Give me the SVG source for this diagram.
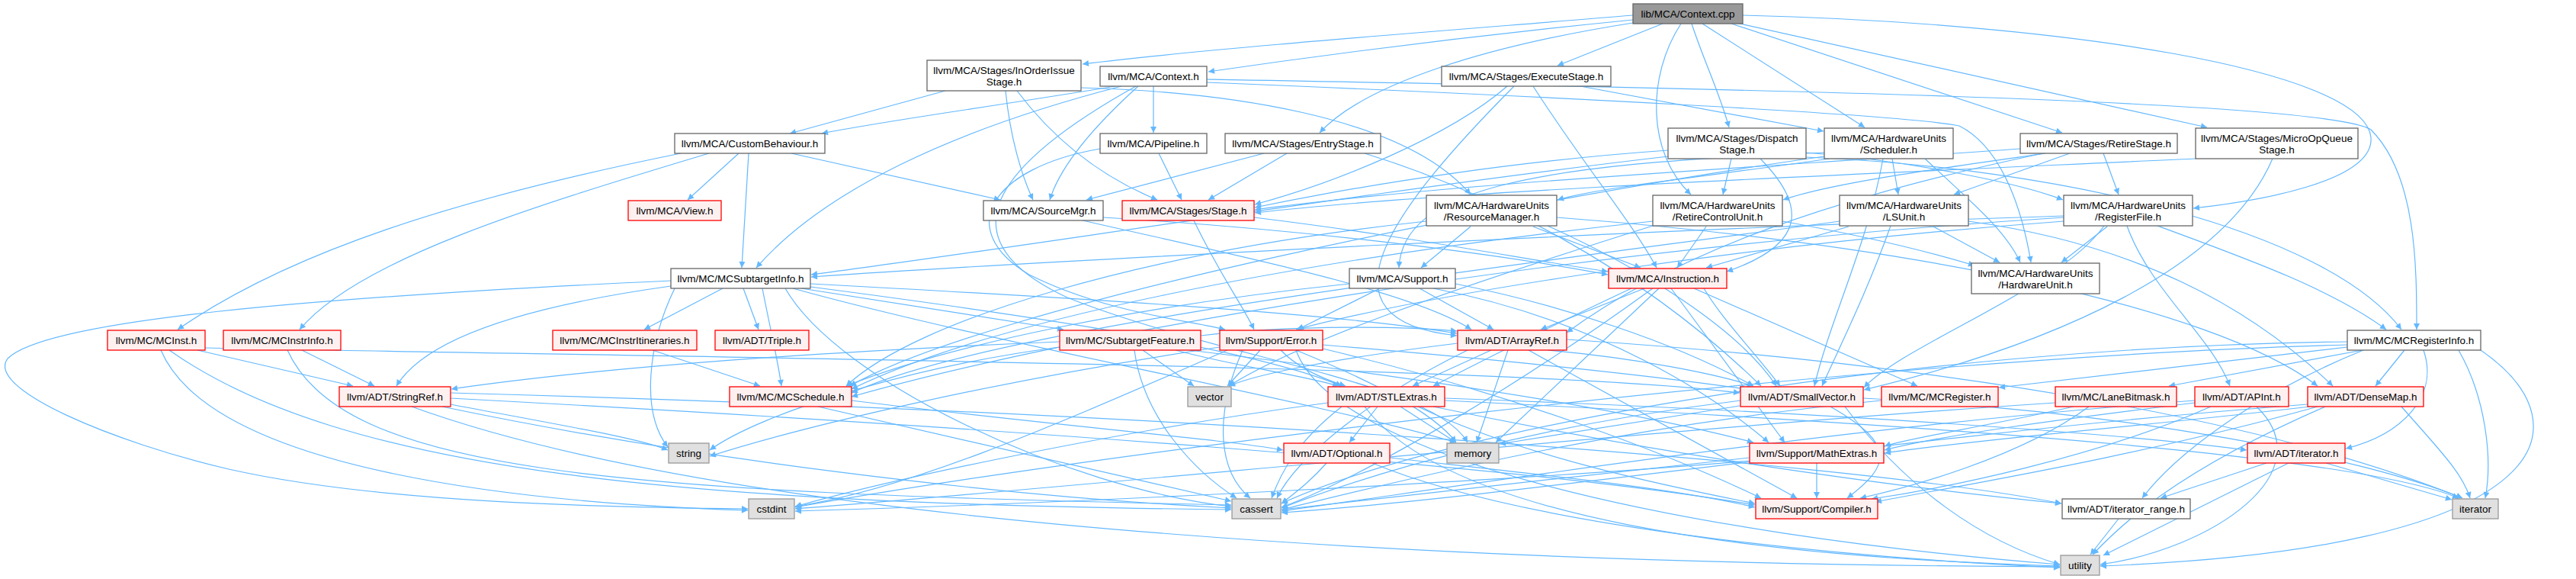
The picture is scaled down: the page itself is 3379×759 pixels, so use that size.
<svg xmlns="http://www.w3.org/2000/svg" width="3379" height="759" viewBox="0 0 3379 759">
<style>
rect{stroke-width:1.3}
.n{fill:#ffffff;stroke:#666666}
.m{fill:#999999;stroke:#666666}
.r{fill:#fff0f0;stroke:#ff0000}
.s{fill:#e0e0e0;stroke:#999999}
text{font-family:"Liberation Sans",Arial,sans-serif;font-size:13.5px;fill:#000;text-anchor:middle}
.e path{fill:none;stroke:#63b8ff;stroke-width:1.2;marker-end:url(#a)}
</style>
<defs>
<marker id="a" viewBox="0 0 10 10" refX="10" refY="5" markerWidth="11" markerHeight="8" markerUnits="userSpaceOnUse" orient="auto">
<path d="M0,0 L10,5 L0,10 z" fill="#63b8ff"/>
</marker>
</defs>
<rect width="3379" height="759" fill="#ffffff"/>
<g id="edges" class="e">
<path d="M2142,20 C1900,40 1600,62 1420,84"/>
<path d="M2142,26 C1950,45 1750,70 1585,94"/>
<path d="M2181,31 L2043,86"/>
<path d="M2142,30 C1950,60 1790,110 1731,174"/>
<path d="M2205,31 C2160,100 2160,200 2218,255"/>
<path d="M2219,31 C2235,80 2255,120 2268,167"/>
<path d="M2233,31 L2446,167"/>
<path d="M2271,31 L2705,174"/>
<path d="M2278,30 L2895,167"/>
<path d="M2286,20 C2700,30 3100,90 3110,180 C3115,240 2950,265 2877,273"/>
<path d="M1463,113 C1300,140 1150,160 1078,175"/>
<path d="M1471,113 C1250,170 1080,250 992,351"/>
<path d="M1493,113 C1430,170 1390,220 1377,262"/>
<path d="M1513,113 L1513,174"/>
<path d="M1583,104 C2200,115 3050,130 3110,170 C3170,230 3170,350 3170,432"/>
<path d="M1583,108 C2000,125 2500,150 2570,165 C2620,190 2650,260 2664,344"/>
<path d="M1490,113 C1280,230 1250,320 1400,390 C1600,470 1880,500 1925,580"/>
<path d="M1240,119 L1036,175"/>
<path d="M1319,119 C1325,180 1340,230 1355,262"/>
<path d="M1334,119 C1380,180 1440,230 1518,262"/>
<path d="M1418,115 C1600,120 1840,150 1929,255"/>
<path d="M1977,113 C1900,180 1750,240 1646,268"/>
<path d="M1986,113 C1820,280 1720,420 1911,440"/>
<path d="M2011,113 C2080,220 2140,290 2173,351"/>
<path d="M2073,113 L2392,172"/>
<path d="M893,201 C600,260 380,330 233,432"/>
<path d="M930,201 C700,270 470,340 393,432"/>
<path d="M969,201 L902,262"/>
<path d="M982,201 L973,351"/>
<path d="M1038,201 L1312,262"/>
<path d="M1520,201 L1550,262"/>
<path d="M1443,195 C1300,220 1250,300 1350,360 C1450,410 1560,420 1607,432"/>
<path d="M1658,201 L1425,262"/>
<path d="M1688,201 L1585,262"/>
<path d="M1790,201 C1950,250 2150,350 2310,506"/>
<path d="M2188,197 C2000,210 1800,240 1646,272"/>
<path d="M2369,200 C2500,210 2650,240 2706,262"/>
<path d="M2271,208 L2260,255"/>
<path d="M2309,208 C2370,270 2370,320 2265,356"/>
<path d="M2369,206 C2700,220 3050,300 3150,432"/>
<path d="M2188,205 C1800,250 1300,330 1064,360"/>
<path d="M2482,208 L2490,255"/>
<path d="M2400,208 C2250,230 2100,245 2043,262"/>
<path d="M2525,208 C2580,260 2630,300 2650,344"/>
<path d="M2393,205 C2000,260 1300,400 1115,506"/>
<path d="M2393,200 C2000,215 1840,250 1835,351"/>
<path d="M2470,208 C2450,320 2400,420 2380,506"/>
<path d="M2650,195 C2300,220 1900,240 1646,275"/>
<path d="M2680,201 C2400,260 2200,330 2055,436"/>
<path d="M2715,201 L2563,255"/>
<path d="M2759,201 L2779,255"/>
<path d="M2683,201 C2550,220 2400,240 2339,262"/>
<path d="M2880,208 C2400,230 1900,250 1646,279"/>
<path d="M2981,208 C2920,350 2700,450 2445,511"/>
<path d="M2042,285 C2500,320 2900,400 3040,506"/>
<path d="M2030,296 C2150,350 2280,430 2330,506"/>
<path d="M1871,290 C1500,330 1200,420 1110,506"/>
<path d="M2011,297 L2152,351"/>
<path d="M1929,297 L1864,351"/>
<path d="M2168,290 C1700,340 1300,420 1117,510"/>
<path d="M2338,290 C2450,310 2530,330 2590,348"/>
<path d="M2238,297 L2200,351"/>
<path d="M2168,296 C1900,380 1700,450 1612,506"/>
<path d="M2582,290 C2800,320 2950,400 3060,506"/>
<path d="M2480,296 C2450,380 2420,440 2390,506"/>
<path d="M2413,290 C1900,360 1300,430 1117,515"/>
<path d="M2536,297 L2623,344"/>
<path d="M2425,297 L2238,351"/>
<path d="M2790,296 C2820,380 2900,440 2925,506"/>
<path d="M2760,296 C2700,380 2500,450 2445,508"/>
<path d="M2830,296 C2950,340 3060,380 3130,432"/>
<path d="M2707,285 C2000,330 1400,440 1117,520"/>
<path d="M2707,283 C2200,300 1400,340 1064,363"/>
<path d="M2764,297 L2704,344"/>
<path d="M2707,290 C2300,320 1900,380 1700,432"/>
<path d="M1420,289 C1600,330 1850,380 1930,432"/>
<path d="M1447,285 C1700,300 1950,330 2109,360"/>
<path d="M1566,289 C1600,360 1630,400 1645,432"/>
<path d="M1645,285 C1850,310 2000,340 2109,356"/>
<path d="M948,378 L845,432"/>
<path d="M975,378 L995,432"/>
<path d="M1051,378 L1395,432"/>
<path d="M1000,378 C1010,430 1020,470 1025,506"/>
<path d="M1063,372 C1400,390 1750,410 1911,437"/>
<path d="M1063,376 C1400,420 1650,460 1760,506"/>
<path d="M880,375 C700,400 560,440 520,506"/>
<path d="M885,378 C850,450 840,540 876,586"/>
<path d="M880,368 C400,390 60,420 10,470 C-20,510 150,580 300,615 C500,660 800,665 981,667"/>
<path d="M1030,378 C1100,500 1400,640 1615,664"/>
<path d="M1040,378 C1300,450 1700,520 1910,580"/>
<path d="M259,459 L463,506"/>
<path d="M269,456 C1000,470 2000,480 2282,515"/>
<path d="M222,459 C450,620 900,660 1615,668"/>
<path d="M211,459 C280,620 700,660 981,669"/>
<path d="M396,459 L491,506"/>
<path d="M377,459 C450,620 800,645 1615,662"/>
<path d="M856,459 L997,506"/>
<path d="M1390,455 C1200,480 1000,540 931,590"/>
<path d="M1499,459 L1566,506"/>
<path d="M1488,459 C1500,550 1570,620 1622,653"/>
<path d="M1560,459 C1900,500 2150,540 2300,580"/>
<path d="M1542,459 C1620,480 1700,490 1756,506"/>
<path d="M1390,448 C1100,460 800,480 592,510"/>
<path d="M1575,440 C1700,425 1850,428 1911,434"/>
<path d="M1653,459 L1610,506"/>
<path d="M1600,455 C1300,500 1050,560 931,598"/>
<path d="M1630,459 C1590,550 1600,620 1640,653"/>
<path d="M1610,459 C1400,550 1200,640 1043,664"/>
<path d="M1700,459 C1800,500 1880,540 1910,580"/>
<path d="M1680,459 C1700,480 1730,495 1765,506"/>
<path d="M1735,452 C1950,470 2150,490 2290,510"/>
<path d="M1735,457 C2000,520 2200,600 2310,653"/>
<path d="M1700,459 C1750,600 2200,700 2702,740"/>
<path d="M2030,459 C2150,470 2250,490 2300,506"/>
<path d="M1956,459 L1853,506"/>
<path d="M2005,459 L2357,653"/>
<path d="M1978,459 L1937,580"/>
<path d="M1925,459 C1800,520 1700,600 1675,653"/>
<path d="M1912,450 C1750,470 1650,490 1612,506"/>
<path d="M2055,445 C2600,480 3000,560 3230,653"/>
<path d="M2157,378 L2021,432"/>
<path d="M2235,378 C2260,420 2300,460 2335,506"/>
<path d="M2176,378 L1962,580"/>
<path d="M2192,378 L2341,580"/>
<path d="M2222,378 L2515,506"/>
<path d="M2140,378 C2050,420 1950,470 1880,506"/>
<path d="M2168,378 C2000,500 1800,620 1681,665"/>
<path d="M3154,459 L3116,506"/>
<path d="M3099,459 L2845,506"/>
<path d="M3079,455 L2622,508"/>
<path d="M3179,459 C3200,520 3150,570 3077,588"/>
<path d="M3100,459 C2950,520 2850,600 2810,653"/>
<path d="M3225,459 C3260,520 3270,600 3260,653"/>
<path d="M3254,459 C3400,560 3350,720 2755,742"/>
<path d="M3079,448 C2500,455 1900,560 1681,660"/>
<path d="M3079,452 C2400,470 1400,600 1043,665"/>
<path d="M591,515 C1500,540 2400,600 2704,660"/>
<path d="M591,522 C1300,560 2000,610 2302,662"/>
<path d="M580,533 C900,600 1300,650 1615,666"/>
<path d="M591,530 C750,560 840,575 876,590"/>
<path d="M540,533 C1000,700 2000,740 2702,743"/>
<path d="M1073,533 L1615,657"/>
<path d="M1117,525 C1400,560 1600,575 1683,590"/>
<path d="M1807,533 L1770,580"/>
<path d="M1837,533 L1910,580"/>
<path d="M1895,522 C2400,540 2800,570 2947,590"/>
<path d="M1880,533 C2200,600 2500,640 2704,660"/>
<path d="M1860,533 C2000,600 2200,640 2302,660"/>
<path d="M1760,533 C1700,580 1680,620 1668,653"/>
<path d="M1742,528 C1500,560 1200,620 1043,664"/>
<path d="M1790,533 C1900,680 2300,730 2702,742"/>
<path d="M1895,525 C2600,560 3100,600 3225,653"/>
<path d="M2401,533 C2488,583 2480,610 2423,653"/>
<path d="M2283,525 C2000,560 1800,620 1681,666"/>
<path d="M2420,533 C2500,640 2600,710 2702,740"/>
<path d="M2282,532 L1967,582"/>
<path d="M2444,522 C2800,540 3100,600 3230,653"/>
<path d="M2468,525 C2100,560 1800,640 1681,668"/>
<path d="M2740,533 C2650,600 2500,640 2440,653"/>
<path d="M2720,533 C2600,560 2500,575 2472,585"/>
<path d="M2696,528 C2200,560 1400,640 1043,667"/>
<path d="M2900,533 C2750,600 2550,640 2455,654"/>
<path d="M2879,528 C2700,550 2550,570 2472,590"/>
<path d="M2879,525 C2400,560 1900,640 1681,670"/>
<path d="M2960,533 C3050,620 2900,720 2755,740"/>
<path d="M3040,533 C2800,600 2550,640 2460,658"/>
<path d="M3030,533 C2800,560 2600,575 2472,594"/>
<path d="M3027,530 C2500,570 2000,650 1681,672"/>
<path d="M3050,533 C2850,620 2780,690 2745,727"/>
<path d="M3150,533 C3200,590 3230,620 3240,653"/>
<path d="M1823,600 C2000,620 2200,640 2302,665"/>
<path d="M1740,607 C1720,630 1700,645 1681,660"/>
<path d="M1800,607 C2000,690 2400,730 2702,744"/>
<path d="M2383,607 L2383,653"/>
<path d="M2295,600 C2100,620 1850,650 1681,668"/>
<path d="M2295,604 C2000,630 1400,660 1043,670"/>
<path d="M2973,607 L2834,653"/>
<path d="M3051,607 L3216,655"/>
<path d="M3002,607 L2759,728"/>
<path d="M2779,680 L2742,727"/>
<path d="M1862,378 L1959,432"/>
<path d="M1909,372 C2050,400 2200,450 2300,506"/>
<path d="M1770,372 C1500,400 1250,450 1110,506"/>
<path d="M1810,378 L1702,432"/>
<path d="M1880,378 C2100,420 2250,520 2320,580"/>
</g>
<g id="n_cpp"><rect class="m" x="2142" y="5" width="144" height="26"/><text x="2214" y="23">lib/MCA/Context.cpp</text></g>
<g id="n_ioi"><rect class="n" x="1216" y="79" width="202" height="40"/><text x="1317" y="97">llvm/MCA/Stages/InOrderIssue</text><text x="1317" y="112">Stage.h</text></g>
<g id="n_ctxh"><rect class="n" x="1443" y="87" width="140" height="26"/><text x="1513" y="105">llvm/MCA/Context.h</text></g>
<g id="n_exe"><rect class="n" x="1891" y="87" width="222" height="26"/><text x="2002" y="105">llvm/MCA/Stages/ExecuteStage.h</text></g>
<g id="n_cb"><rect class="n" x="885" y="175" width="197" height="26"/><text x="983.5" y="193">llvm/MCA/CustomBehaviour.h</text></g>
<g id="n_pipe"><rect class="n" x="1443" y="175" width="140" height="26"/><text x="1513" y="193">llvm/MCA/Pipeline.h</text></g>
<g id="n_entry"><rect class="n" x="1607" y="175" width="204" height="26"/><text x="1709" y="193">llvm/MCA/Stages/EntryStage.h</text></g>
<g id="n_disp"><rect class="n" x="2188" y="168" width="181" height="40"/><text x="2278.5" y="186">llvm/MCA/Stages/Dispatch</text><text x="2278.5" y="201">Stage.h</text></g>
<g id="n_sched"><rect class="n" x="2393" y="168" width="169" height="40"/><text x="2477.5" y="186">llvm/MCA/HardwareUnits</text><text x="2477.5" y="201">/Scheduler.h</text></g>
<g id="n_retst"><rect class="n" x="2650" y="175" width="206" height="26"/><text x="2753" y="193">llvm/MCA/Stages/RetireStage.h</text></g>
<g id="n_moq"><rect class="n" x="2880" y="168" width="213" height="40"/><text x="2986.5" y="186">llvm/MCA/Stages/MicroOpQueue</text><text x="2986.5" y="201">Stage.h</text></g>
<g id="n_view"><rect class="r" x="824" y="263" width="122" height="26"/><text x="885" y="281">llvm/MCA/View.h</text></g>
<g id="n_src"><rect class="n" x="1290" y="263" width="157" height="26"/><text x="1368.5" y="281">llvm/MCA/SourceMgr.h</text></g>
<g id="n_stage"><rect class="r" x="1472" y="263" width="173" height="26"/><text x="1558.5" y="281">llvm/MCA/Stages/Stage.h</text></g>
<g id="n_rm"><rect class="n" x="1871" y="256" width="171" height="40"/><text x="1956.5" y="274">llvm/MCA/HardwareUnits</text><text x="1956.5" y="289">/ResourceManager.h</text></g>
<g id="n_rcu"><rect class="n" x="2168" y="256" width="170" height="40"/><text x="2253" y="274">llvm/MCA/HardwareUnits</text><text x="2253" y="289">/RetireControlUnit.h</text></g>
<g id="n_lsu"><rect class="n" x="2413" y="256" width="169" height="40"/><text x="2497.5" y="274">llvm/MCA/HardwareUnits</text><text x="2497.5" y="289">/LSUnit.h</text></g>
<g id="n_rf"><rect class="n" x="2707" y="256" width="169" height="40"/><text x="2791.5" y="274">llvm/MCA/HardwareUnits</text><text x="2791.5" y="289">/RegisterFile.h</text></g>
<g id="n_msti"><rect class="n" x="880" y="352" width="183" height="26"/><text x="971.5" y="370">llvm/MC/MCSubtargetInfo.h</text></g>
<g id="n_sup"><rect class="n" x="1770" y="352" width="139" height="26"/><text x="1839.5" y="370">llvm/MCA/Support.h</text></g>
<g id="n_inst"><rect class="r" x="2110" y="352" width="155" height="26"/><text x="2187.5" y="370">llvm/MCA/Instruction.h</text></g>
<g id="n_hwu"><rect class="n" x="2586" y="345" width="168" height="40"/><text x="2670" y="363">llvm/MCA/HardwareUnits</text><text x="2670" y="378">/HardwareUnit.h</text></g>
<g id="n_mcinst"><rect class="r" x="141" y="433" width="128" height="26"/><text x="205" y="451">llvm/MC/MCInst.h</text></g>
<g id="n_mii"><rect class="r" x="293" y="433" width="154" height="26"/><text x="370" y="451">llvm/MC/MCInstrInfo.h</text></g>
<g id="n_miit"><rect class="r" x="725" y="433" width="189" height="26"/><text x="819.5" y="451">llvm/MC/MCInstrItineraries.h</text></g>
<g id="n_triple"><rect class="r" x="938" y="433" width="123" height="26"/><text x="999.5" y="451">llvm/ADT/Triple.h</text></g>
<g id="n_sf"><rect class="r" x="1390" y="433" width="185" height="26"/><text x="1482.5" y="451">llvm/MC/SubtargetFeature.h</text></g>
<g id="n_err"><rect class="r" x="1600" y="433" width="135" height="26"/><text x="1667.5" y="451">llvm/Support/Error.h</text></g>
<g id="n_aref"><rect class="r" x="1912" y="433" width="143" height="26"/><text x="1983.5" y="451">llvm/ADT/ArrayRef.h</text></g>
<g id="n_mri"><rect class="n" x="3079" y="433" width="175" height="26"/><text x="3166.5" y="451">llvm/MC/MCRegisterInfo.h</text></g>
<g id="n_sref"><rect class="r" x="445" y="507" width="146" height="26"/><text x="518" y="525">llvm/ADT/StringRef.h</text></g>
<g id="n_msched"><rect class="r" x="957" y="507" width="160" height="26"/><text x="1037" y="525">llvm/MC/MCSchedule.h</text></g>
<g id="n_vec"><rect class="s" x="1558" y="507" width="57" height="26"/><text x="1586.5" y="525">vector</text></g>
<g id="n_stl"><rect class="r" x="1742" y="507" width="153" height="26"/><text x="1818.5" y="525">llvm/ADT/STLExtras.h</text></g>
<g id="n_sv"><rect class="r" x="2283" y="507" width="161" height="26"/><text x="2363.5" y="525">llvm/ADT/SmallVector.h</text></g>
<g id="n_mreg"><rect class="r" x="2468" y="507" width="153" height="26"/><text x="2544.5" y="525">llvm/MC/MCRegister.h</text></g>
<g id="n_lbm"><rect class="r" x="2696" y="507" width="159" height="26"/><text x="2775.5" y="525">llvm/MC/LaneBitmask.h</text></g>
<g id="n_apint"><rect class="r" x="2879" y="507" width="123" height="26"/><text x="2940.5" y="525">llvm/ADT/APInt.h</text></g>
<g id="n_dmap"><rect class="r" x="3027" y="507" width="152" height="26"/><text x="3103" y="525">llvm/ADT/DenseMap.h</text></g>
<g id="n_str"><rect class="s" x="877" y="581" width="53" height="26"/><text x="903.5" y="599">string</text></g>
<g id="n_opt"><rect class="r" x="1684" y="581" width="139" height="26"/><text x="1753.5" y="599">llvm/ADT/Optional.h</text></g>
<g id="n_mem"><rect class="s" x="1898" y="581" width="68" height="26"/><text x="1932" y="599">memory</text></g>
<g id="n_math"><rect class="r" x="2295" y="581" width="176" height="26"/><text x="2383" y="599">llvm/Support/MathExtras.h</text></g>
<g id="n_ith"><rect class="r" x="2948" y="581" width="128" height="26"/><text x="3012" y="599">llvm/ADT/iterator.h</text></g>
<g id="n_cstdint"><rect class="s" x="982" y="654" width="60" height="26"/><text x="1012" y="672">cstdint</text></g>
<g id="n_cassert"><rect class="s" x="1616" y="654" width="64" height="26"/><text x="1648" y="672">cassert</text></g>
<g id="n_comp"><rect class="r" x="2303" y="654" width="160" height="26"/><text x="2383" y="672">llvm/Support/Compiler.h</text></g>
<g id="n_itr"><rect class="n" x="2705" y="654" width="168" height="26"/><text x="2789" y="672">llvm/ADT/iterator_range.h</text></g>
<g id="n_iter"><rect class="s" x="3217" y="654" width="60" height="26"/><text x="3247" y="672">iterator</text></g>
<g id="n_util"><rect class="s" x="2703" y="728" width="51" height="26"/><text x="2728.5" y="746">utility</text></g>
</svg>
